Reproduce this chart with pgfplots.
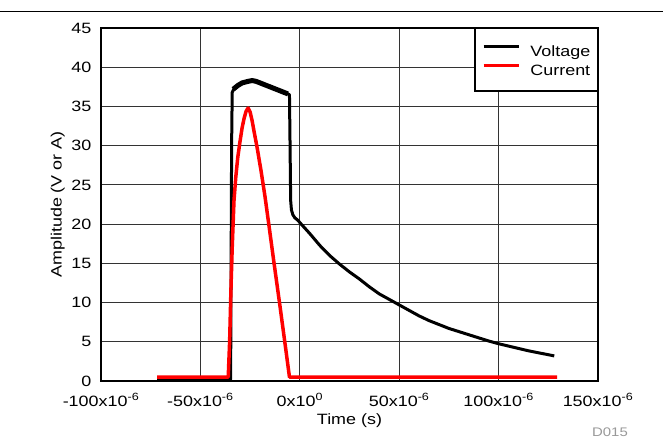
\documentclass[border=0pt]{standalone}
\usepackage{pgfplots}
\pgfplotsset{compat=1.18}
\usepackage{fontspec}
\setmainfont{Liberation Sans}[FakeStretch=1.2]

\begin{document}
\begin{tikzpicture}
\useasboundingbox (0bp,0bp) rectangle (663bp,438bp);
\draw[line width=1bp] (0bp,426.5bp) -- (663bp,426.5bp);
\node[text=black!40, font=\fontsize{12.5}{14}\selectfont, anchor=center, inner sep=0pt] at (610bp,6bp) {D015};
\begin{axis}[
  at={(101bp,57bp)}, anchor=south west,
  width=497bp, height=353bp, scale only axis,
  xmin=-100, xmax=150, ymin=0, ymax=45,
  xtick={-100,-50,0,50,100,150},
  xticklabels={-100x10\textsuperscript{-6},-50x10\textsuperscript{-6},0x10\textsuperscript{0},50x10\textsuperscript{-6},100x10\textsuperscript{-6},150x10\textsuperscript{-6}},
  ytick={0,5,10,15,20,25,30,35,40,45},
  /pgf/number format/assume math mode=true,
  major tick length=0pt,
  grid=major,
  major grid style={black!80, line width=0.8bp},
  axis line style={line width=2.5bp},
  tick label style={font=\fontsize{15}{18}\selectfont},
  xticklabel style={anchor=base, yshift=-25bp},
  yticklabel style={anchor=east, inner sep=0pt, xshift=-9.5bp},
  label style={font=\fontsize{15}{18}\selectfont},
  xlabel={Time (s)},
  xlabel style={at={(axis description cs:0.5,-0.1246)}, anchor=base},
  ylabel={Amplitude (V or A)},
  ylabel style={at={(axis description cs:-0.0791,0.5)}, anchor=base, rotate=0},
  legend style={at={(rel axis cs:1,1)}, anchor=north east, draw=black, line width=1.5bp,
    font=\fontsize{15}{18}\selectfont, inner xsep=7bp, inner ysep=13.7bp,
    nodes={inner sep=0pt, text height=14bp, text depth=1.3bp},
    column sep=10bp, row sep=4.2bp},
  legend cell align=left,
  legend image code/.code={\draw[#1] (0bp,4bp) -- (35bp,4bp);},
]
\addplot[black, line width=3bp, line join=round] coordinates {
(-71.8,0.2) (-34.8,0.2) (-34.3,30) (-34.0,36.8) (-33.0,37.3) (-31,37.7) (-29,38.0)
(-26,38.2) (-24,38.3) (-22,38.2) (-20,38.0) (-18,37.8) (-16,37.6) (-14,37.4)
(-12,37.2) (-10,37.0) (-8,36.8) (-6,36.6) (-5.2,36.5) (-4.9,30) (-4.6,23)
(-4.2,21.8) (-3.5,21.2) (-2.5,20.8) (-1,20.5) (0,20.2) (5,18.8) (10,17.3)
(15,16.0) (20,14.9) (25,13.9) (30,13.0) (35,12.0) (40,11.1) (45,10.4) (50,9.7)
(55,9.0) (60,8.3) (65,7.7) (70,7.2) (75,6.7) (80,6.3) (85,5.9) (90,5.5) (95,5.1)
(100,4.75) (105,4.45) (110,4.15) (115,3.85) (120,3.6) (125,3.35) (128,3.2)
};
\addlegendentry{Voltage}
\addplot[black, line width=5bp, line join=round, forget plot] coordinates {
(-33.5,37.2) (-31,37.7) (-29,38.0) (-26,38.2) (-24,38.3) (-22,38.2) (-20,38.0)
(-18,37.8) (-16,37.6) (-14,37.4) (-12,37.2) (-10,37.0) (-8,36.8) (-6,36.6)
};
\addplot[red, line width=3.5bp, line join=round] coordinates {
(-71.8,0.5) (-36.0,0.5) (-35.3,5) (-34.6,12) (-34.0,17) (-33.1,23) (-32.2,26)
(-31.2,28.5) (-30.1,30.5) (-29,32.3) (-28,33.5) (-27,34.4) (-26,34.8) (-25,34.3)
(-24,33.2) (-23,31.8) (-21.5,29.8) (-19.5,26.8) (-17.5,23.5) (-15.5,19.8)
(-13,15.1) (-10,9.6) (-7.4,4.7) (-5.2,0.5) (129.4,0.5)
};
\addlegendentry{Current}
\end{axis}
\end{tikzpicture}
\end{document}
